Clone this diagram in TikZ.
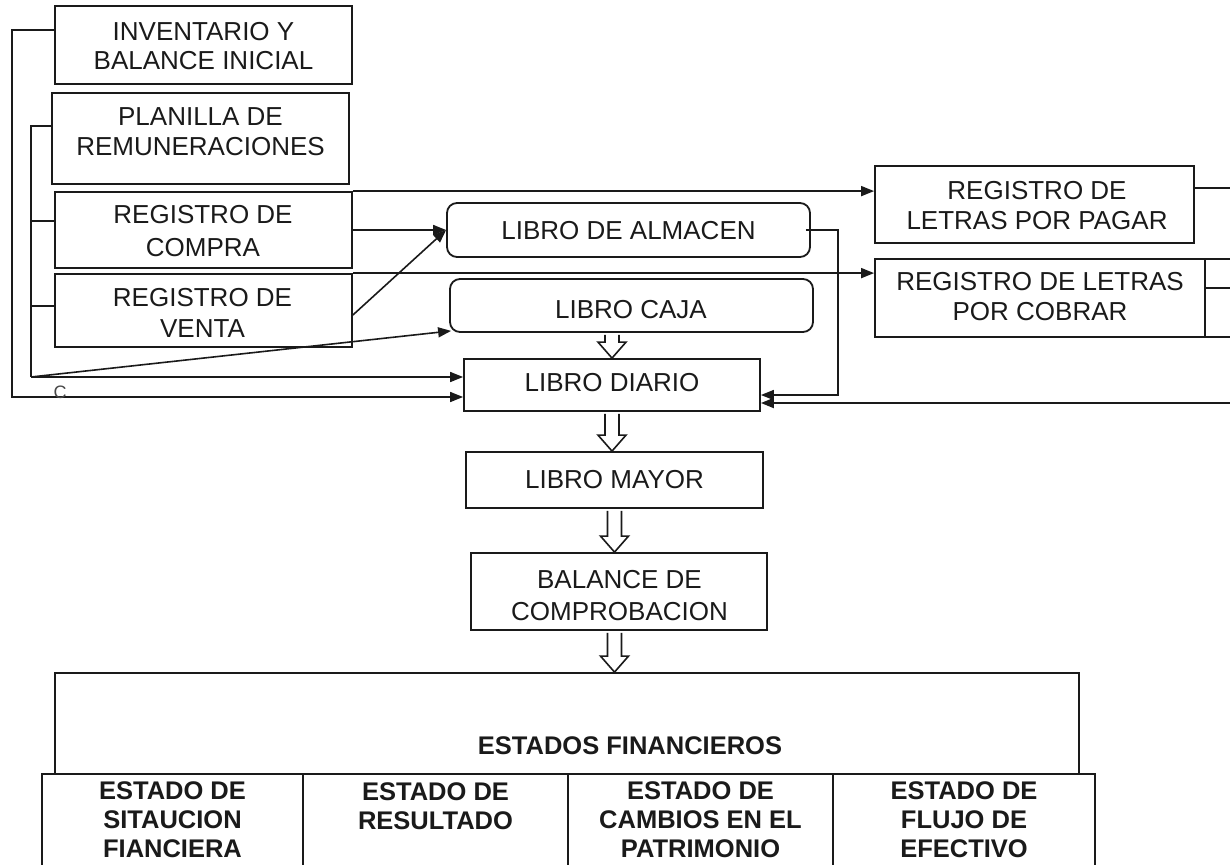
\documentclass[tikz,border=0pt]{standalone}
\usepackage{fontspec}
\setmainfont{Liberation Sans}
\usetikzlibrary{arrows.meta,calc}
\definecolor{ink}{HTML}{1A1A1A}
\newcommand\hollowarr[2]{%
  \draw[hollow] let \p1=(#1), \p2=(#2) in
   (\x1-7pt,\y1-2pt) -- (\x1-7pt,\y2+16pt) -- (\x1-14pt,\y2+16pt) -- (\x1,\y2)
   -- (\x1+14pt,\y2+16pt) -- (\x1+7pt,\y2+16pt) -- (\x1+7pt,\y1-2pt);}
\begin{document}
\begin{tikzpicture}[x=1pt,y=-1pt,
  box/.style={draw=ink,line width=1.8pt,inner sep=0pt,rectangle},
  rbox/.style={box,rounded corners=10pt},
  txt/.style={inner sep=0pt,align=center,text=ink,font=\fontsize{26}{30}\selectfont},
  btxt/.style={inner sep=0pt,align=center,text=ink,font=\fontsize{25.5}{29}\selectfont\bfseries},
  conn/.style={draw=ink,line width=1.6pt},
  arr/.style={conn,-{Triangle[length=13pt,width=10pt]}},
  hollow/.style={draw=ink,line width=1.6pt,fill=white}
]
\useasboundingbox (0,0) rectangle (1230,864);
\clip (0,0) rectangle (1230,864);

% left column boxes
\node[box,minimum width=297,minimum height=78] (inv) at (203.5,45) {};
\node[txt,font=\fontsize{26}{29}\selectfont] (inv-t) at (203.5,46.5) {INVENTARIO Y\\BALANCE INICIAL};
\node[box,minimum width=297,minimum height=91] (plan) at (200.5,138.5) {};
\node[txt] (plan-t) at (200.5,132) {PLANILLA DE\\REMUNERACIONES};
\node[box,minimum width=297,minimum height=76] (compra) at (203.5,230) {};
\node[txt,font=\fontsize{26}{33}\selectfont] (compra-t) at (203,231.5) {REGISTRO DE\\COMPRA};
\node[box,minimum width=297,minimum height=73] (venta) at (203.5,310.5) {};
\node[txt,font=\fontsize{26}{31}\selectfont] (venta-t) at (202.5,312.5) {REGISTRO DE\\VENTA};

% middle boxes
\node[rbox,minimum width=363,minimum height=54] (almacen) at (628.5,230) {};
\node[txt] (almacen-t) at (628.5,231) {LIBRO DE ALMACEN};
\node[rbox,minimum width=363,minimum height=53] (caja) at (631.5,305.5) {};
\node[txt] (caja-t) at (631,310) {LIBRO CAJA};
\node[box,minimum width=296,minimum height=52] (diario) at (612,385) {};
\node[txt] (diario-t) at (612,383) {LIBRO DIARIO};
\node[box,minimum width=297,minimum height=56] (mayor) at (614.5,480) {};
\node[txt] (mayor-t) at (614.5,480) {LIBRO MAYOR};
\node[box,minimum width=296,minimum height=77] (balance) at (619,591.5) {};
\node[txt,font=\fontsize{26}{32}\selectfont] (balance-t) at (619.5,596) {BALANCE DE\\COMPROBACION};

% right boxes
\node[box,minimum width=319,minimum height=77] (pagar) at (1034.5,204.5) {};
\node[txt] (pagar-t) at (1037,206) {REGISTRO DE\\LETRAS POR PAGAR};
\node[box,minimum width=330,minimum height=78] (cobrar) at (1040,298) {};
\node[txt] (cobrar-t) at (1040,297) {REGISTRO DE LETRAS\\POR COBRAR};
\node[box,minimum width=60,minimum height=78] (cobrarx) at (1235,298) {};

% bottom
\node[box,minimum width=1024,minimum height=101] (estados) at (567,723.5) {};
\node[btxt] (estados-t) at (630,746) {ESTADOS FINANCIEROS};
\node[box,minimum width=261,minimum height=110] (c1) at (172.5,829) {};
\node[box,minimum width=265,minimum height=110] (c2) at (435.5,829) {};
\node[box,minimum width=265,minimum height=110] (c3) at (700.5,829) {};
\node[box,minimum width=262,minimum height=110] (c4) at (964,829) {};
\node[btxt] (c1-t) at (172.5,820) {ESTADO DE\\SITAUCION\\FIANCIERA};
\node[btxt] (c2-t) at (435.5,806) {ESTADO DE\\RESULTADO};
\node[btxt] (c3-t) at (700.5,820) {ESTADO DE\\CAMBIOS EN EL\\PATRIMONIO};
\node[btxt] (c4-t) at (964,820) {ESTADO DE\\FLUJO DE\\EFECTIVO};

% hollow block arrows
\hollowarr{caja.south -| diario.north}{diario.north}
\hollowarr{diario.south}{mayor.north}
\hollowarr{mayor.south}{balance.north}
\hollowarr{balance.south -| mayor.south}{estados.north}

% left brackets
\coordinate (t1) at (12,30);
\coordinate (t1b) at (12,397);
\draw[arr] (t1 -| inv.west) -- (t1) -- (t1b) -- (t1b -| diario.west);
\coordinate (t2) at (31,126);
\coordinate (t2b) at (31,377);
\coordinate (t3) at (31,221);
\coordinate (t4) at (31,306);
\draw[conn] (t2 -| plan.west) -- (t2) -- (t2b);
\draw[conn] (t3) -- (t3 -| compra.west);
\draw[conn] (t4) -- (t4 -| venta.west);
\draw[arr] (t2b) -- (t2b -| diario.west);
\draw[arr] (t2b) -- ([shift={(2pt,2pt)}]caja.south west);
\node[inner sep=0pt,text=ink!80,font=\fontsize{18}{18}\selectfont] (clab) at (60,392) {C};

% registers to books
\draw[arr] (compra.east) -- (almacen.west);
\draw[arr] ([yshift=-4.5pt]venta.east) -- (almacen.west);
\draw[arr] (compra.north east) -- (compra.north east -| pagar.west);
\draw[arr] (venta.north east) -- (venta.north east -| cobrar.west);

% almacen to diario
\coordinate (r1) at (838,395);
\draw[arr] ([xshift=-5pt]almacen.east) -- (almacen.east -| r1) -- (r1) -- (r1 -| diario.east);

% right side
\coordinate (e1) at (1232,188);
\draw[conn] (e1 -| pagar.east) -- (e1);
\coordinate (e3) at (1232,288);
\draw[conn] (e3 -| cobrarx.west) -- (e3);
\coordinate (e2) at (1232,403);
\draw[arr,line width=2pt] (e2) -- (e2 -| diario.east);
\end{tikzpicture}
\end{document}
